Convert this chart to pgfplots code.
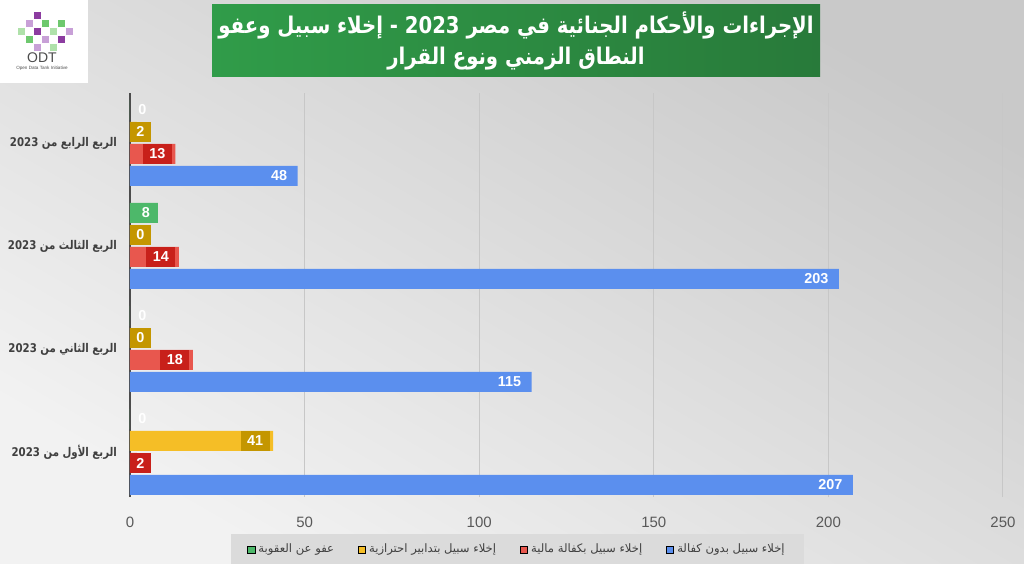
\documentclass[border=0pt]{standalone}
\usepackage{fontspec}
\setmainfont{Liberation Sans}
\newfontfamily\arabicfont[Script=Arabic]{DejaVu Sans}
\TeXXeTstate=1
\usepackage{pgfplots}
\usepackage{pgfplotstable}
\pgfplotsset{compat=1.18}
\pgfkeys{/pgf/number format/assume math mode=true}
\definecolor{cblue}{RGB}{91,143,238}
\definecolor{cred}{RGB}{232,87,78}
\definecolor{credd}{RGB}{200,32,26}
\definecolor{cyel}{RGB}{245,190,38}
\definecolor{cyeld}{RGB}{196,150,0}
\definecolor{cgreen}{RGB}{77,184,106}
\definecolor{tgreenA}{RGB}{48,156,73}
\definecolor{tgreenB}{RGB}{40,122,58}
\definecolor{lpurple}{RGB}{140,60,160}
\definecolor{lpurple2}{RGB}{200,160,215}
\definecolor{lgreen}{RGB}{110,200,110}
\definecolor{lgreen2}{RGB}{175,225,170}

% quarter index (0 = Q1 ... 3 = Q4), value
\pgfplotstableread{
g v
0 207
1 115
2 203
3 48
}\tblue
\pgfplotstableread{
g v
0 2
1 18
2 14
3 13
}\tred
\pgfplotstableread{
g v
0 41
1 0
2 0
3 2
}\tyel
\pgfplotstableread{
g v
0 0
1 0
2 8
3 0
}\tgreen

\pgfplotsset{
  lab/.style n args={4}{draw=none, mark=none, forget plot, nodes near coords, point meta=explicit,
    every node near coord/.append style={anchor=east, yshift=#1, xshift=#3, font=\bfseries\fontsize{7.2}{8}\selectfont,
      text=white, fill=#2, minimum height=10pt, inner ysep=0pt, inner xsep=#4}},
  sqleg/.style={legend image code/.code={\fill[##1] (0pt,-1.8pt) rectangle (3.6pt,1.8pt);}},
}

\begin{document}
\begin{tikzpicture}
\useasboundingbox (0,0) rectangle (512pt,281.5pt);
\shade[top color=white!95!black, bottom color=white!79!black, shading angle=150] (0,0) rectangle (512pt,281.5pt);
% logo
\fill[white] (0,240pt) rectangle (44pt,281.5pt);
\foreach \x/\y/\c in {17/272/lpurple, 13/268/lpurple2, 21/268/lgreen, 9/264/lgreen2, 17/264/lpurple, 25/264/lgreen2, 13/260/lgreen, 21/260/lpurple2, 29/260/lpurple, 25/256/lgreen2, 17/256/lpurple2, 33/264/lpurple2, 29/268/lgreen}
  \fill[\c] (\x pt,\y pt) rectangle ++(3.4pt,3.4pt);
\node[font=\fontsize{7}{8}\selectfont, text=black!70] at (21pt,252.5pt) {ODT};
\node[font=\fontsize{2.3}{3}\selectfont, text=black!70] at (21pt,247.5pt) {Open Data Tank Initiative};
% title
\shade[left color=tgreenA, right color=tgreenB] (106pt,243pt) rectangle (410pt,279pt);
\node[text=white, align=center, font=\arabicfont\bfseries\fontsize{11.5}{15.5}\selectfont] at (258pt,260.8pt)
  {\scalebox{0.855}[1]{\beginR الإجراءات والأحكام الجنائية في مصر 2023 - إخلاء سبيل وعفو\endR}\\ \scalebox{0.855}[1]{\beginR النطاق الزمني ونوع القرار\endR}};
\begin{axis}[
  at={(65pt,33pt)}, anchor=south west, scale only axis,
  width=436.5pt, height=202pt,
  xmin=0, xmax=250, ymin=-0.437, ymax=3.485,
  clip=false,
  axis line style={draw=none}, major tick length=0pt,
  xtick={50,100,150,200,250},
  extra x ticks={0},
  extra x tick style={grid style={draw=black!70, line width=1pt}},
  xmajorgrids, grid style={draw=black!22, line width=0.5pt},
  ytick={0,1,2,3},
  yticklabels={{\scalebox{0.85}[1]{\beginR الربع الأول من 2023\endR}},{\scalebox{0.85}[1]{\beginR الربع الثاني من 2023\endR}},{\scalebox{0.85}[1]{\beginR الربع الثالث من 2023\endR}},{\scalebox{0.85}[1]{\beginR الربع الرابع من 2023\endR}}},
  yticklabel style={font=\arabicfont\bfseries\fontsize{6}{7}\selectfont, text=black!75, xshift=-3pt},
  xticklabel style={font=\fontsize{7.5}{9}\selectfont, text=black!65, yshift=-6.5pt},
  legend style={at={(rel axis cs:0.444,-0.13)}, anchor=center, legend columns=4, draw=none,
    fill=white!86!black, font=\arabicfont\fontsize{5.8}{7}\selectfont, text=black!75,
    inner xsep=8pt, inner ysep=3pt, nodes={inner xsep=1.5pt},
    /tikz/every even column/.append style={column sep=10.5pt}},
]
\addplot[xbar, bar width=10pt, bar shift=-16.5pt, fill=cblue, draw=none, forget plot] table[x=v, y=g] {\tblue};
\addplot[xbar, bar width=10pt, bar shift=-5.5pt, fill=cred, draw=none, forget plot] table[x=v, y=g] {\tred};
\addplot[xbar, bar width=10pt, bar shift=5.5pt, fill=cyel, draw=none, forget plot] table[x=v, y=g] {\tyel};
\addplot[xbar, bar width=10pt, bar shift=16.5pt, fill=cgreen, draw=none, forget plot] table[x=v, y=g] {\tgreen};
% value labels
\addplot[lab={-16.5pt}{none}{-3pt}{2pt}] table[x=v, y=g, meta=v] {\tblue};
\addplot[lab={-5.5pt}{credd}{-1.5pt}{3.3pt}] table[x expr={max(\thisrow{v},7)}, y=g, meta=v] {\tred};
\addplot[lab={5.5pt}{cyeld}{-1.5pt}{3.3pt}] table[x expr={max(\thisrow{v},7)}, y=g, meta=v] {\tyel};
\addplot[lab={16.5pt}{none}{-0.5pt}{3.3pt}] table[x expr={max(\thisrow{v},7)}, y=g, meta=v] {\tgreen};
% legend
\addlegendimage{sqleg, fill=cgreen}
\addlegendentry{\beginR عفو عن العقوبة\endR}
\addlegendimage{sqleg, fill=cyel}
\addlegendentry{\beginR إخلاء سبيل بتدابير احترازية\endR}
\addlegendimage{sqleg, fill=cred}
\addlegendentry{\beginR إخلاء سبيل بكفالة مالية\endR}
\addlegendimage{sqleg, fill=cblue}
\addlegendentry{\beginR إخلاء سبيل بدون كفالة\endR}
\end{axis}
\end{tikzpicture}
\end{document}
